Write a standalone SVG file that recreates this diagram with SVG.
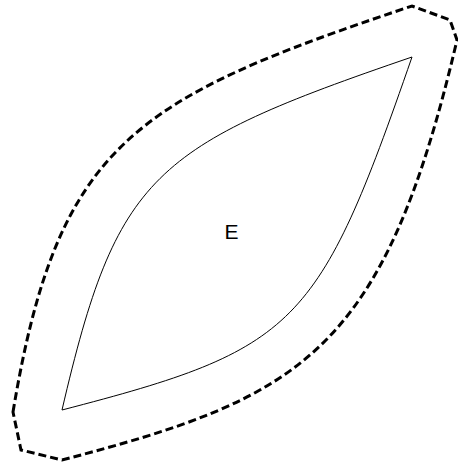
<svg xmlns="http://www.w3.org/2000/svg" width="458" height="466" viewBox="0 0 458 466">
<style>
.outer{fill:none;stroke:#000;stroke-width:3;stroke-dasharray:8,4}
.inner{fill:none;stroke:#000;stroke-width:1}
.lbl{font-family:"Liberation Sans",Arial,sans-serif;font-size:21px;fill:#000}
</style>
<rect width="458" height="466" fill="#fff"/>
<g id="outer">
<path class="outer" d="M13,412 C57.8,142.7 133.9,99 412,6 L450,20 L457,40 C383.6,353.4 302.1,397.2 62,460 L21,450 Z"/>
</g>
<g id="E">
<path class="inner" d="M62,410 C117,174 152,146 412,57 C318,328 297,349 62,410 Z"/>
<text class="lbl" x="231.5" y="238.5" text-anchor="middle">E</text>
</g>
</svg>
